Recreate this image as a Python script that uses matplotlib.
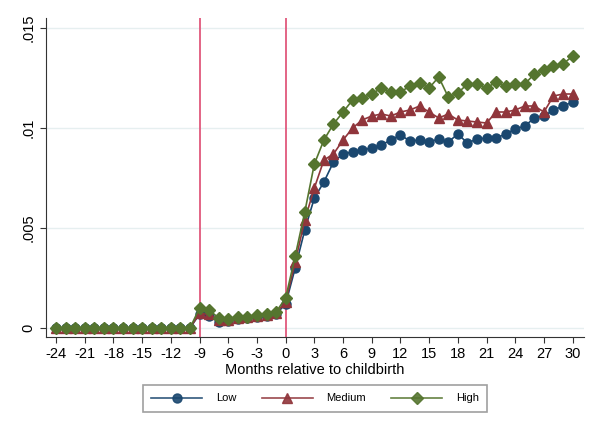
import numpy as np
import matplotlib
matplotlib.use('Agg')
import matplotlib.pyplot as plt

plt.rcParams['font.family'] = ['Liberation Sans', 'DejaVu Sans']
plt.rcParams['axes.unicode_minus'] = False

months = list(range(-24, 31))
pre = [0.0] * 15

low = pre + [0.0007, 0.0006, 0.0003, 0.00035, 0.00045, 0.0005, 0.00055, 0.0006, 0.0007,
             0.0012, 0.0030, 0.0049, 0.0065, 0.0073, 0.0083, 0.0087, 0.0088, 0.0089, 0.0090,
             0.00915, 0.0094, 0.00965, 0.00935, 0.0094, 0.0093, 0.00945, 0.0093, 0.0097, 0.00925,
             0.00945, 0.0095, 0.0095, 0.0097, 0.00995, 0.0101, 0.0105, 0.0106, 0.0109, 0.0111, 0.0113]
medium = pre + [0.00073, 0.00068, 0.0004, 0.0004, 0.0005, 0.00055, 0.0006, 0.00065, 0.00075,
                0.0013, 0.0033, 0.0054, 0.0070, 0.0084, 0.0087, 0.0094, 0.0100, 0.0104, 0.0106,
                0.0107, 0.0106, 0.0108, 0.0109, 0.0111, 0.0108, 0.0105, 0.0107, 0.0104, 0.01035,
                0.0103, 0.01025, 0.0108, 0.0108, 0.0109, 0.0111, 0.0111, 0.0108, 0.0116, 0.0117, 0.0117]
high = pre + [0.0010, 0.0009, 0.0005, 0.00045, 0.00055, 0.00055, 0.00065, 0.0007, 0.0008,
              0.0015, 0.0036, 0.0058, 0.0082, 0.0094, 0.0102, 0.0108, 0.0114, 0.0115, 0.0117,
              0.0120, 0.0118, 0.0118, 0.0121, 0.01225, 0.0120, 0.01255, 0.01155, 0.01175, 0.0122,
              0.0122, 0.0120, 0.0123, 0.0121, 0.0122, 0.0122, 0.0127, 0.0129, 0.0131, 0.0132, 0.0136]

event_lines = [-9, 0]
xticks = list(range(-24, 31, 3))
yticks = [0, 0.005, 0.01, 0.015]
ylabels = ['0', '.005', '.01', '.015']

fig = plt.figure(figsize=(5.9, 4.34), dpi=100)
ax = fig.add_axes([0.078, 0.2235, 0.912, 0.735])

for v in event_lines:
    ax.axvline(v, color='#e0587c', lw=1.3, zorder=1)

ax.plot(months, low, color='#1a476f', marker='o', ms=6.5, lw=1.2, label='Low', zorder=3)
ax.plot(months, medium, color='#90353b', marker='^', ms=7, lw=1.2, label='Medium', zorder=4)
ax.plot(months, high, color='#55752f', marker='D', ms=6.5, lw=1.2, label='High', zorder=5)

ax.set_xlim(-25.05, 31.2)
ax.set_ylim(-0.00045, 0.0155)
ax.set_xticks(xticks)
ax.set_yticks(yticks)
ax.set_yticklabels(ylabels, rotation=90, va='center')
ax.tick_params(labelsize=10.5, color='#333333', length=4)
ax.grid(axis='y', color='#e6eff0', lw=1)
ax.set_axisbelow(True)
for s in ['top', 'right']:
    ax.spines[s].set_visible(False)
ax.spines['left'].set_color('#333333')
ax.spines['bottom'].set_color('#333333')
ax.set_xlabel('Months relative to childbirth', fontsize=10.5, labelpad=1)

leg = fig.legend(loc='center', bbox_to_anchor=(0.534, 0.082), ncol=3, fontsize=8,
                 fancybox=False, edgecolor='#888888', handlelength=4.6, columnspacing=2.3,
                 handletextpad=1.2, borderpad=0.75)
leg.get_frame().set_linewidth(1.2)
for h in leg.legend_handles:
    h.set_alpha(0.9)

plt.savefig('out.png', dpi=100)
